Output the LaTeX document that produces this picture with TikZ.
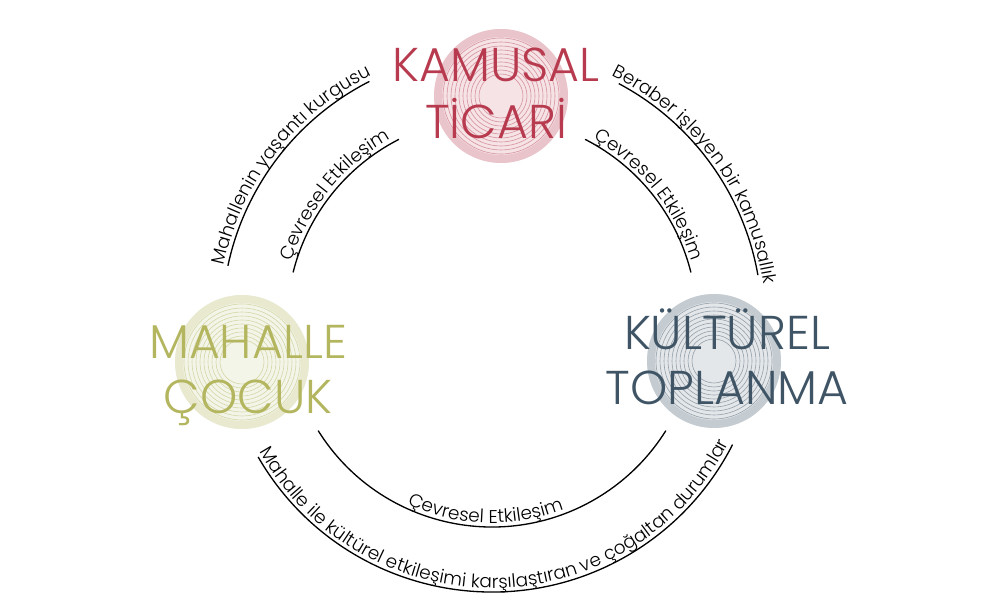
\documentclass[tikz,border=0pt]{standalone}
\usepackage{fontspec}
\setmainfont{Poppins}
\IfFontExistsTF{Poppins Light}{\newfontfamily\lightfont{Poppins Light}}{\newfontfamily\lightfont{Poppins}}
\usetikzlibrary{decorations.text}

\definecolor{kamusalred}{HTML}{B73A4E}
\definecolor{mahalleolive}{HTML}{B3B65E}
\definecolor{kulturblue}{HTML}{3F5566}

\newcommand{\arcfont}{\lightfont\fontsize{10.5}{12}\selectfont}
\newcommand{\emblem}[2]{%
  \fill[#2!14] (#1) circle[radius=67];
  \draw[#2!30, line width=4.5pt] (#1) circle[radius=63];
  \foreach \r in {22,26,...,58} \draw[#2!55, line width=0.35pt] (#1) circle[radius=\r];
}

\tikzset{
  title/.style={inner sep=0pt, font=\lightfont\fontsize{27}{31}\selectfont},
  arcline/.style={line width=0.75pt},
  arctext/.style={decorate, decoration={text along path, text align=center,
      text={|\arcfont|#1}}}
}

\begin{document}
\begin{tikzpicture}[x=0.02cm, y=0.02cm]

  \useasboundingbox (0,0) rectangle (990,615);

  \coordinate (c) at (492,293);
  \coordinate (kamusalring) at (501,519);
  \coordinate (mahallering) at (242,253);
  \coordinate (kulturring) at (714,254);

  \emblem{kamusalring}{kamusalred}
  \emblem{mahallering}{mahalleolive}
  \emblem{kulturring}{kulturblue}

  \draw (496,516) node [title, text=kamusalred] (kamusal)
  {\begin{tabular}{c}KAMUSAL\\TİCARİ\end{tabular}};

  \draw (248,240) node [title, text=mahalleolive] (mahalle)
  {\begin{tabular}{c}MAHALLE\\ÇOCUK\end{tabular}};

  \draw (727,250) node [title, text=kulturblue] (kultur)
  {\begin{tabular}{c}KÜLTÜREL\\TOPLANMA\end{tabular}};

  \draw[arcline] (c) ++(166:205) arc[start angle=166, end angle=117, radius=205];
  \draw[arcline] (c) ++(63:205) arc[start angle=63, end angle=14, radius=205];
  \draw[arcline] (c) ++(212:205) arc[start angle=212, end angle=328, radius=205];

  \draw[arcline] (c) ++(168:270) arc[start angle=168, end angle=117, radius=270];
  \draw[arcline] (c) ++(62:270) arc[start angle=62, end angle=10, radius=270];
  \draw[arcline] (c) ++(210:270) arc[start angle=210, end angle=333, radius=270];

  \path[arctext={Çevresel Etkileşim}] (c) ++(175:209) arc[start angle=175, end angle=107, radius=209];
  \path[arctext={Çevresel Etkileşim}] (c) ++(73:209) arc[start angle=73, end angle=5, radius=209];
  \path[arctext={Çevresel Etkileşim}] (c) ++(210:201) arc[start angle=210, end angle=326, radius=201];

  \path[arctext={Mahallenin yaşantı kurgusu}] (c) ++(175:274) arc[start angle=175, end angle=109, radius=274];
  \path[arctext={Beraber işleyen bir kamusallık}] (c) ++(71:274) arc[start angle=71, end angle=1, radius=274];
  \path[arctext={Mahalle ile kültürel etkileşimi karşılaştıran ve çoğaltan durumlar}] (c) ++(199:266) arc[start angle=199, end angle=343, radius=266];

\end{tikzpicture}
\end{document}
